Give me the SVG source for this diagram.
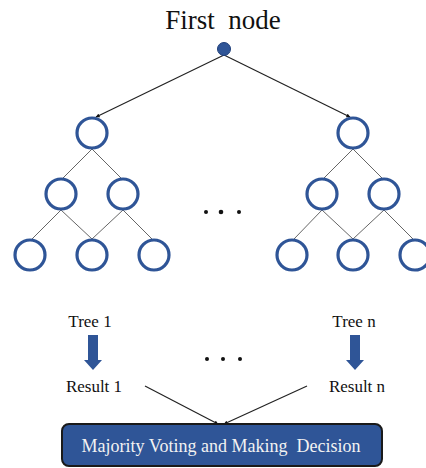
<svg xmlns="http://www.w3.org/2000/svg" width="426" height="468" viewBox="0 0 426 468">
<defs>
<style>
.t{font-family:"Liberation Serif","Times New Roman",serif;fill:#111;white-space:pre}
.n{fill:#fff;stroke:#2f5597;stroke-width:3.2}
.e{stroke:#666;stroke-width:1;fill:none}
.m{stroke:#222;stroke-width:1.2;fill:none;marker-end:url(#ah)}
.d{fill:#111}
.ba{fill:#2f5597}
</style>
<marker id="ah" viewBox="0 0 10 10" refX="9" refY="5" markerWidth="4" markerHeight="4" orient="auto-start-reverse" markerUnits="userSpaceOnUse">
<path d="M0,0 L10,5 L0,10 z" fill="#111"/>
</marker>
</defs>
<rect width="426" height="468" fill="#fff"/>
<text class="t" x="223" y="29" font-size="27" text-anchor="middle">First  node</text>
<g id="connectors">
<line class="m" x1="224" y1="55" x2="96" y2="117"/>
<line class="m" x1="224" y1="55" x2="350" y2="117"/>
<line class="e" x1="92" y1="149" x2="63" y2="178"/>
<line class="e" x1="92" y1="149" x2="121" y2="178"/>
<line class="e" x1="61" y1="210" x2="32" y2="239"/>
<line class="e" x1="61" y1="210" x2="92" y2="239"/>
<line class="e" x1="123" y1="210" x2="92" y2="239"/>
<line class="e" x1="123" y1="210" x2="152" y2="239"/>
<line class="e" x1="353" y1="149" x2="324" y2="178"/>
<line class="e" x1="353" y1="149" x2="382" y2="178"/>
<line class="e" x1="322" y1="210" x2="294" y2="239"/>
<line class="e" x1="322" y1="210" x2="353" y2="239"/>
<line class="e" x1="384" y1="210" x2="353" y2="239"/>
<line class="e" x1="384" y1="210" x2="413" y2="239"/>
<line class="m" x1="145" y1="386" x2="218" y2="424"/>
<line class="m" x1="307" y1="386" x2="224" y2="424"/>
</g>
<g id="root"><circle cx="224" cy="49" r="6.5" fill="#2f5597" stroke="#1f3f7a" stroke-width="1"/></g>
<g id="tree1">
<circle class="n" cx="92" cy="133" r="15"/>
<circle class="n" cx="61" cy="194" r="15"/>
<circle class="n" cx="123" cy="194" r="15"/>
<circle class="n" cx="30" cy="255" r="15"/>
<circle class="n" cx="92" cy="255" r="15"/>
<circle class="n" cx="154" cy="255" r="15"/>
</g>
<g id="treen">
<circle class="n" cx="353" cy="133" r="15"/>
<circle class="n" cx="322" cy="194" r="15"/>
<circle class="n" cx="384" cy="194" r="15"/>
<circle class="n" cx="292" cy="255" r="15"/>
<circle class="n" cx="353" cy="255" r="15"/>
<circle class="n" cx="415" cy="255" r="15"/>
</g>
<g id="dots1">
<circle class="d" cx="206" cy="212" r="2"/>
<circle class="d" cx="221" cy="212" r="2.3"/>
<circle class="d" cx="239" cy="212" r="2"/>
</g>
<g id="labels">
<text class="t" x="90" y="327" font-size="17" text-anchor="middle">Tree 1</text>
<text class="t" x="354" y="327" font-size="17" text-anchor="middle">Tree n</text>
<text class="t" x="94" y="392" font-size="17" text-anchor="middle">Result 1</text>
<text class="t" x="357" y="392" font-size="17" text-anchor="middle">Result n</text>
</g>
<g id="arrow1"><path class="ba" d="M88,335 H98 V360 H102 L93,370 L84,360 H88 Z"/></g>
<g id="arrown"><path class="ba" d="M350,335 H360 V360 H364 L355,370 L346,360 H350 Z"/></g>
<g id="dots2">
<circle class="d" cx="207" cy="359" r="2"/>
<circle class="d" cx="223" cy="359" r="2"/>
<circle class="d" cx="240" cy="359" r="2"/>
</g>
<g id="decision">
<rect x="62" y="424" width="320" height="42" rx="7" fill="#2f5597" stroke="#1a1a1a" stroke-width="2"/>
<text class="t" x="221" y="452" font-size="18" text-anchor="middle" style="fill:#f2f2f2">Majority Voting and Making  Decision</text>
</g>
</svg>
